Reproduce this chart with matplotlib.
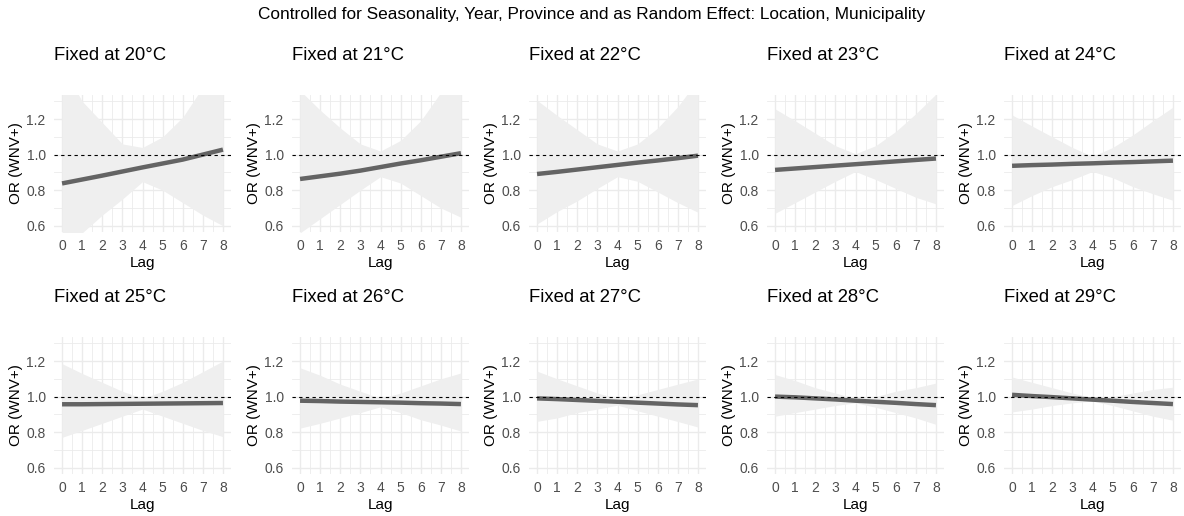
import numpy as np
import matplotlib
matplotlib.use("Agg")
import matplotlib.pyplot as plt

plt.rcParams['font.family'] = ['Liberation Sans', 'DejaVu Sans']

lags = [0, 1, 2, 3, 4, 5, 6, 7, 8]
temps = [20, 21, 22, 23, 24, 25, 26, 27, 28, 29]

fit_20 = [0.838, 0.860, 0.882, 0.905, 0.928, 0.950, 0.972, 1.000, 1.028]
low_20 = [0.47, 0.56, 0.66, 0.75, 0.848, 0.80, 0.73, 0.66, 0.60]
upp_20 = [1.50, 1.30, 1.18, 1.06, 1.04, 1.10, 1.21, 1.38, 1.55]

fit_21 = [0.863, 0.878, 0.893, 0.910, 0.930, 0.950, 0.968, 0.988, 1.008]
low_21 = [0.56, 0.64, 0.72, 0.80, 0.876, 0.84, 0.77, 0.70, 0.648]
upp_21 = [1.36, 1.25, 1.15, 1.06, 1.02, 1.08, 1.19, 1.35, 1.50]

fit_22 = [0.891, 0.903, 0.916, 0.929, 0.942, 0.955, 0.967, 0.980, 0.994]
low_22 = [0.61, 0.68, 0.74, 0.81, 0.876, 0.85, 0.79, 0.73, 0.676]
upp_22 = [1.305, 1.22, 1.14, 1.06, 1.02, 1.06, 1.15, 1.27, 1.42]

fit_23 = [0.914, 0.922, 0.930, 0.938, 0.946, 0.954, 0.962, 0.970, 0.978]
low_23 = [0.67, 0.73, 0.79, 0.85, 0.905, 0.86, 0.81, 0.76, 0.723]
upp_23 = [1.257, 1.19, 1.12, 1.05, 1.005, 1.05, 1.13, 1.23, 1.34]

fit_24 = [0.937, 0.941, 0.944, 0.948, 0.951, 0.955, 0.958, 0.962, 0.966]
low_24 = [0.714, 0.77, 0.82, 0.86, 0.905, 0.87, 0.82, 0.78, 0.743]
upp_24 = [1.223, 1.16, 1.10, 1.04, 0.99, 1.04, 1.11, 1.19, 1.267]

fit_25 = [0.957, 0.957, 0.958, 0.959, 0.960, 0.961, 0.962, 0.963, 0.964]
low_25 = [0.771, 0.81, 0.85, 0.89, 0.93, 0.89, 0.85, 0.81, 0.775]
upp_25 = [1.185, 1.13, 1.08, 1.03, 0.99, 1.03, 1.08, 1.14, 1.20]

fit_26 = [0.977, 0.975, 0.972, 0.970, 0.968, 0.966, 0.963, 0.961, 0.958]
low_26 = [0.823, 0.85, 0.88, 0.91, 0.943, 0.91, 0.87, 0.84, 0.806]
upp_26 = [1.162, 1.12, 1.07, 1.03, 0.99, 1.02, 1.06, 1.10, 1.133]

fit_27 = [0.990, 0.986, 0.981, 0.976, 0.971, 0.966, 0.961, 0.956, 0.952]
low_27 = [0.861, 0.88, 0.91, 0.93, 0.952, 0.92, 0.89, 0.86, 0.829]
upp_27 = [1.143, 1.10, 1.06, 1.02, 0.99, 1.01, 1.04, 1.07, 1.099]

fit_28 = [1.000, 0.996, 0.990, 0.984, 0.977, 0.971, 0.965, 0.958, 0.952]
low_28 = [0.890, 0.91, 0.93, 0.95, 0.965, 0.94, 0.91, 0.88, 0.844]
upp_28 = [1.124, 1.09, 1.05, 1.02, 0.99, 1.00, 1.03, 1.05, 1.076]

fit_29 = [1.010, 1.003, 0.997, 0.990, 0.983, 0.977, 0.970, 0.964, 0.958]
low_29 = [0.914, 0.93, 0.95, 0.965, 0.975, 0.95, 0.92, 0.89, 0.867]
upp_29 = [1.110, 1.08, 1.05, 1.02, 0.995, 1.00, 1.02, 1.04, 1.053]

fits = [fit_20, fit_21, fit_22, fit_23, fit_24, fit_25, fit_26, fit_27, fit_28, fit_29]
lows = [low_20, low_21, low_22, low_23, low_24, low_25, low_26, low_27, low_28, low_29]
upps = [upp_20, upp_21, upp_22, upp_23, upp_24, upp_25, upp_26, upp_27, upp_28, upp_29]

W, H = 1184, 516
fig = plt.figure(figsize=(W / 100, H / 100), dpi=100)

col_left = [54, 292, 529, 767, 1004]
row_bottom = [232, 474]
pw, ph = 177, 137
grid_col = '#EBEBEB'

for i, t in enumerate(temps):
    r, c = divmod(i, 5)
    left = col_left[c]
    bottom = row_bottom[r]
    ax = fig.add_axes([left / W, 1 - bottom / H, pw / W, ph / H])
    ax.fill_between(lags, lows[i], upps[i], color='#EFEFEF', lw=0, zorder=1)
    ax.plot(lags, fits[i], color='#646464', lw=3.2, solid_capstyle='butt', zorder=3)
    ax.axhline(1.0, color='black', lw=0.8, ls=(0, (3, 3)), zorder=4)

    ax.set_xlim(-0.4, 8.4)
    ax.set_ylim(0.565, 1.335)
    ax.set_xticks(lags)
    ax.set_xticks(np.arange(0.5, 8, 1), minor=True)
    ax.set_yticks([0.6, 0.8, 1.0, 1.2])
    ax.set_yticks([0.7, 0.9, 1.1, 1.3], minor=True)
    ax.set_yticklabels(['0.6', '0.8', '1.0', '1.2'])
    ax.grid(which='major', color=grid_col, lw=1.0, zorder=0)
    ax.grid(which='minor', color=grid_col, lw=0.6, zorder=0)
    ax.set_axisbelow(True)
    for s in ax.spines.values():
        s.set_visible(False)
    ax.tick_params(which='both', length=0, labelsize=10, labelcolor='#4D4D4D')
    ax.tick_params(axis='x', pad=5)
    ax.tick_params(axis='y', pad=6)
    ax.set_xlabel('Lag', fontsize=11, labelpad=2)
    ax.set_ylabel('OR (WNV+)', fontsize=11)
    ax.yaxis.set_label_coords(-31 / pw, 0.5)

    title_y = [55, 297][r]
    fig.text(left / W, 1 - title_y / H, f'Fixed at {t}°C', fontsize=13.3,
             ha='left', va='center')

fig.text(0.5, 1 - 15 / H,
         'Controlled for Seasonality, Year, Province and as Random Effect: Location, Municipality',
         fontsize=12.4, ha='center', va='center')

fig.savefig('out.png', dpi=100)
